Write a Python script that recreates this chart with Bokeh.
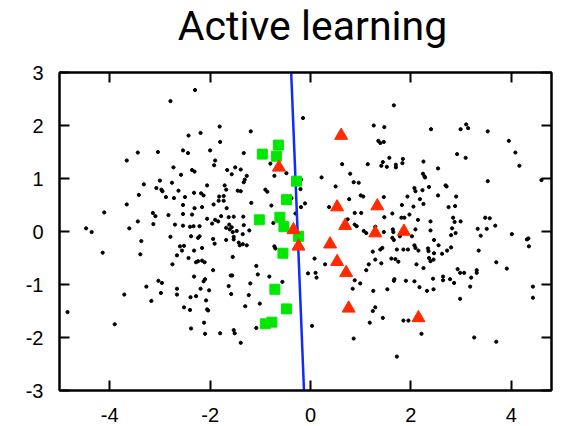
from bokeh.plotting import figure
from bokeh.layouts import column
from bokeh.models import Range1d, FixedTicker, LinearAxis
from bokeh.core.properties import value
from bokeh.embed import file_html
from bokeh.resources import INLINE

# Unlabelled pool of samples
dot_x = [-2.79, -2.43, -3.66, -3.44, -3.04, -2.54, -2.44, -2.73, -2.58, -3.32,
         -3.00, -2.76, -3.07, -2.97, -2.95, -2.88, -2.63, -2.72, -2.50, -3.42,
         -3.66, -4.11, -3.14, -3.09, -2.83, -2.54, -2.54, -3.44, -3.13, -2.70,
         -2.54, -2.40, -4.47, -3.61, -4.36, -2.79, -3.37, -4.14, -3.39, -2.60,
         -2.52, -2.56, -2.66, -2.75, -2.43, -3.03, -2.96, -3.27, -3.71, -3.17,
         -2.98, -2.66, -2.66, -2.39, -2.52, -2.40, -4.84, -3.90, -2.30, -0.15,
         -1.81, -2.19, -1.19, -1.80, -2.00, -1.33, -1.90, -1.92, -2.36, -2.31,
         -0.80, -1.66, -1.50, -1.39, -1.57, -1.27, -1.31, -1.33, -0.72, -0.48,
         -2.06, -1.71, -1.68, -1.45, -1.39, -0.90, -0.86, -0.19, -0.20, -2.32,
         -2.18, -2.13, -1.82, -1.73, -1.73, -1.83, -1.93, -1.67, -1.18, -0.78,
         -0.38, -0.11, -0.19, -2.31, -2.16, -2.36, -1.78, -2.06, -1.96, -1.90,
         -1.84, -1.63, -1.53, -1.34, -1.62, -1.57, -1.68, -1.61, -1.22, -1.33,
         -0.74, -0.30, 0.37, 0.22, 0.50, 0.63, 0.79, 0.86, 0.96, 1.00,
         1.05, 0.77, 0.88, 1.01, 0.74, 0.88, 0.92, 1.14, 1.06, -2.33,
         -2.21, 1.66, 1.26, 1.47, 2.40, 2.99, 3.10, 3.14, 3.53, 1.35,
         1.39, 1.46, 3.95, 4.08, 2.92, 3.09, 1.44, 1.41, 1.52, 1.57,
         1.70, 1.70, 1.84, 1.83, 2.25, 2.54, 4.16, 2.24, 2.27, 2.28,
         3.53, 4.60, 2.07, 2.09, 2.23, 2.36, 2.69, 2.71, 2.54, 1.93,
         2.18, 2.25, 2.90, 2.88, 2.75, 1.46, 1.82, 2.05, 1.63, 1.47,
         1.81, 1.87, 1.97, 2.14, 2.39, 2.84, 2.87, 2.99, 3.48, 3.57,
         3.68, 3.33, 3.51, 2.82, 1.29, 1.64, 2.09, 2.39, 1.46, 1.65,
         1.78, 2.02, 2.46, 1.63, 1.66, 1.24, 1.39, 1.43, 1.72, 1.85,
         1.94, 2.07, 2.09, 2.15, 2.34, 2.35, 2.46, 2.55, 2.62, 2.72,
         2.80, 2.80, 2.89, 3.39, 3.35, 4.01, 4.31, 4.34, 4.35, 1.29,
         1.41, 1.61, 1.69, 1.75, 1.67, 1.66, 1.90, 2.07, 2.11, 2.25,
         2.36, 2.39, 2.45, 2.17, 2.32, 2.45, 2.44, 2.64, 2.64, 2.78,
         2.86, 2.93, 2.98, 3.06, 3.20, 3.31, 3.31, 3.18, 3.70, 3.91,
         2.98, 4.43, 4.43, 1.25, 1.53, 1.29, 1.24, 1.44, 1.85, 1.95,
         2.21, 3.26, 3.70, 1.72, -1.55, -1.47, -1.35, -2.21, -2.38, -2.24,
         -1.94, -1.91, -1.68, -1.53, -1.53, -1.43, -1.41, -1.35, -1.27, -2.16,
         -2.32, -2.28, -2.24, -2.16, -2.11, -1.55, -1.94, -1.08, -1.05, -0.82,
         -0.72, -0.70, -2.32, -2.13, -2.10, -1.59, -1.56, -1.63, -2.02, -2.19,
         -1.20, -0.56, -1.58, -1.23, -2.28, -2.08, -1.30, -1.01, -2.06, -2.04,
         -2.12, -2.38, -2.10, -1.80, -1.53, -1.51, -1.08, -1.39, -0.05, 0.08,
         0.10, 0.12, 0.29, 0.03, 0.86, 0.88, 0.84, 0.99, 1.11, 1.16,
         1.11, 1.18]
dot_y = [2.46, 1.81, 1.34, 1.49, 1.50, 1.53, 1.48, 1.21, 1.07, 0.89,
         0.96, 0.92, 0.82, 0.79, 0.76, 0.65, 0.77, 0.63, 0.65, 0.69,
         0.51, 0.36, 0.35, 0.29, 0.31, 0.50, 0.33, 0.19, 0.14, 0.13,
         0.11, 0.09, 0.06, 0.06, -0.01, -0.10, -0.18, -0.40, -0.43, -0.28,
         -0.27, -0.36, -0.45, -0.62, -0.50, -0.93, -0.97, -1.04, -1.19, -1.31,
         -1.16, -1.08, -1.19, -1.24, -1.43, -1.48, -1.52, -1.75, 2.67, 2.14,
         1.98, 1.86, 1.89, 1.69, 1.53, 1.48, 1.34, 1.25, 1.16, 1.13,
         1.28, 1.16, 1.21, 1.17, 1.08, 1.05, 0.98, 0.93, 1.05, 1.10,
         0.87, 0.87, 0.79, 0.77, 0.76, 0.79, 0.75, 0.98, 0.80, 0.73,
         0.72, 0.68, 0.66, 0.67, 0.58, 0.58, 0.51, 0.44, 0.54, 0.49,
         0.63, 0.53, 0.46, 0.44, 0.46, 0.32, 0.29, 0.24, 0.15, 0.22,
         0.19, 0.27, 0.28, 0.28, 0.13, 0.08, 0.07, 0.04, 0.02, 0.12,
         0.16, 0.34, 0.46, 1.02, 0.85, 1.27, 1.09, 0.93, 0.92, 0.68,
         0.66, 0.61, 0.35, 0.35, 0.23, 0.13, 0.10, 1.27, 0.01, 0.10,
         0.10, 2.38, 2.00, 1.97, 1.93, 1.93, 2.02, 1.95, 1.89, 1.71,
         1.67, 1.69, 1.71, 1.49, 1.46, 1.39, 1.31, 1.24, 1.22, 1.39,
         1.26, 1.21, 1.37, 1.29, 1.32, 1.19, 1.24, 1.09, 1.04, 1.02,
         0.95, 0.97, 0.82, 0.76, 0.78, 0.84, 0.87, 0.85, 0.68, 0.66,
         0.61, 0.52, 0.66, 0.48, 0.46, 0.65, 0.50, 0.47, 0.34, 0.27,
         0.26, 0.26, 0.32, 0.22, 0.19, 0.26, 0.18, 0.19, 0.26, 0.25,
         0.11, 0.05, 0.05, 0.06, 0.09, 0.04, 0.04, 0.02, -0.01, -0.01,
         -0.09, -0.09, -0.16, -0.12, -0.16, -0.38, -0.34, -0.31, -0.34, -0.34,
         -0.34, -0.26, -0.31, -0.36, -0.32, -0.37, -0.41, -0.26, -0.42, -0.36,
         -0.30, -0.07, -0.03, -0.08, -0.36, -0.05, -0.15, -0.13, -0.28, -0.53,
         -0.60, -0.51, -0.52, -0.57, -0.90, -0.93, -0.93, -0.94, -0.62, -0.69,
         -0.50, -0.56, -0.53, -1.05, -1.12, -1.09, -0.89, -0.85, -0.92, -0.90,
         -0.97, -0.71, -0.78, -0.78, -0.87, -0.73, -0.78, -1.04, -0.58, -0.70,
         -1.27, -1.04, -1.25, -1.12, -1.09, -1.43, -1.50, -1.63, -1.68, -1.68,
         -1.93, -2.00, -2.08, -2.36, -0.01, 0.01, -0.05, -0.09, -0.09, -0.12,
         -0.14, -0.23, -0.16, -0.10, -0.15, -0.21, -0.26, -0.24, -0.26, -0.31,
         -0.36, -0.58, -0.56, -0.55, -0.58, -0.48, -0.73, -0.65, -0.81, -0.85,
         -0.28, -0.32, -0.85, -0.94, -0.90, -0.83, -0.83, -1.03, -1.11, -1.08,
         -0.98, -0.95, -1.18, -1.20, -1.22, -1.30, -1.41, -1.36, -1.47, -1.49,
         -1.72, -1.83, -1.93, -1.92, -1.86, -1.92, -1.82, -2.10, -0.79, -0.51,
         -0.78, -0.87, -0.62, -1.78, -2.02, -0.92, -1.08, -0.98, -0.73, -0.62,
         -0.03, -1.72]

# Queried samples, class A (squares) and class B (triangles)
square_x = [-0.64, -0.96, -0.68, -0.28, -0.48, -1.02, -0.61, -0.53, -0.24, -0.55,
            -0.71, -0.48, -0.90, -0.77]
square_y = [1.63, 1.46, 1.42, 0.95, 0.60, 0.22, 0.27, 0.09, -0.09, -0.41,
            -1.09, -1.46, -1.74, -1.71]
triangle_x = [0.61, -0.63, 0.53, 1.33, 0.69, 1.29, -0.34, -0.24, 0.39, 0.53,
              0.71, 0.76, 1.86, 2.15]
triangle_y = [1.81, 1.21, 0.46, 0.48, 0.11, -0.03, 0.03, -0.28, -0.24, -0.57,
              -0.78, -1.45, 0.00, -1.63]

# Current decision boundary
boundary_x = [-0.385, -0.13]
boundary_y = [3.0, -3.0]

x_ticks = [-4, -2, 0, 2, 4]
y_ticks = [-3, -2, -1, 0, 1, 2, 3]
x_tick_labels = [str(t) for t in x_ticks]
title_text = "Active learning"

WIDTH = 561
HEAD_H = 58
FOOT_H = 24
PLOT_H = 426 - HEAD_H - FOOT_H
BORDER_L, BORDER_R = 59, 10
TICK_FONT = "Liberation Sans"
TICK_SIZE = "20px"


def bare_strip(height, x_range, y_range, left=0, right=0):
    s = figure(width=WIDTH, height=height, output_backend="svg", toolbar_location=None,
               x_range=x_range, y_range=y_range, x_axis_type=None, y_axis_type=None,
               min_border_left=left, min_border_right=right,
               min_border_top=0, min_border_bottom=0)
    s.grid.visible = False
    s.outline_line_color = None
    s.background_fill_color = "white"
    s.border_fill_color = "white"
    return s


# Heading strip (pixel coordinates)
head = bare_strip(HEAD_H, Range1d(0, WIDTH), Range1d(0, HEAD_H))
head.text(x=[288.5], y=[32.5], text=[title_text], text_align="center",
          text_baseline="alphabetic", text_font=value("Roboto"),
          text_font_size="41px", text_color="black")

# Scatter plot
p = figure(width=WIDTH, height=PLOT_H, output_backend="svg", toolbar_location=None,
           x_range=Range1d(-5, 4.8), y_range=Range1d(-3, 3),
           min_border_left=BORDER_L, min_border_right=BORDER_R,
           min_border_top=72 - HEAD_H, min_border_bottom=12)
p.xgrid.visible = False
p.ygrid.visible = False
p.background_fill_color = "white"
p.border_fill_color = "white"
p.outline_line_color = "black"
p.outline_line_width = 2


def style_axis(ax, ticks, show_labels, standoff=0):
    ax.ticker = FixedTicker(ticks=ticks)
    ax.major_label_overrides = {t: str(t) for t in ticks}
    ax.axis_line_color = "black"
    ax.axis_line_width = 2
    ax.major_tick_line_color = "black"
    ax.major_tick_line_width = 2
    ax.major_tick_in = 10
    ax.major_tick_out = 0
    ax.minor_tick_line_color = None
    ax.major_label_text_font = TICK_FONT
    ax.major_label_text_font_size = TICK_SIZE
    ax.major_label_text_color = "black" if show_labels else None
    ax.major_label_standoff = standoff


style_axis(p.xaxis[0], x_ticks, False)
style_axis(p.yaxis[0], y_ticks, True, standoff=16)

top_axis = LinearAxis()
style_axis(top_axis, x_ticks, False)
p.add_layout(top_axis, "above")

right_axis = LinearAxis()
style_axis(right_axis, y_ticks, False)
p.add_layout(right_axis, "right")

p.scatter(dot_x, dot_y, marker="circle", size=3.2, color="black")
p.line(boundary_x, boundary_y, line_color="#0f2cff", line_width=2.5)
p.scatter(square_x, square_y, marker="square", size=10,
          fill_color="#00e800", line_color="#00e800")
p.scatter(triangle_x, triangle_y, marker="triangle", size=13,
          fill_color="#ff2a00", line_color="#ff2a00")

# Horizontal tick labels, sharing the scatter plot's x scale
foot = bare_strip(FOOT_H, p.x_range, Range1d(0, FOOT_H), left=BORDER_L, right=BORDER_R)
foot.text(x=x_ticks, y=[12] * len(x_ticks), text=x_tick_labels, text_align="center",
          text_baseline="middle", text_font=value(TICK_FONT),
          text_font_size=TICK_SIZE, text_color="black")

layout = column(head, p, foot, spacing=0)
open("out.html", "w").write(file_html(layout, INLINE))
